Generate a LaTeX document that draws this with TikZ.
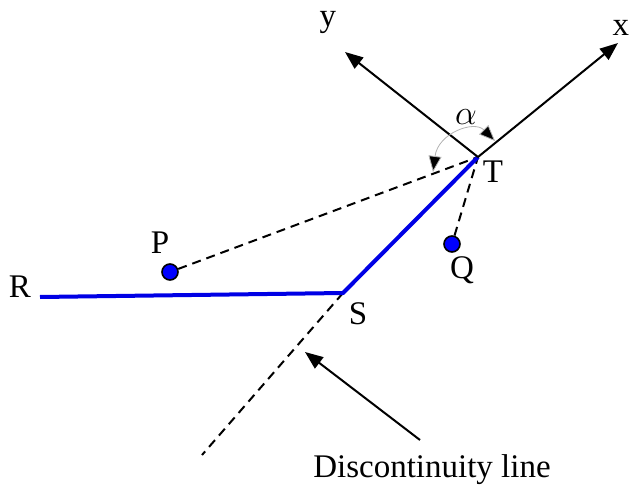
\documentclass[tikz,border=0pt]{standalone}
\usepackage{fontspec}
\setmainfont{Liberation Serif}
\usepackage{tikz}
\usetikzlibrary{arrows.meta}

\begin{document}
\begin{tikzpicture}[
  x=0.5pt, y=-0.5pt,
  every node/.style={font=\fontsize{16.5}{20}\selectfont,inner sep=0pt},
  axis/.style={line width=1pt,-{Triangle[length=9pt,width=7pt]}},
  crack/.style={line width=2pt,blue!90!black},
  ray/.style={line width=1pt,dash pattern=on 4.5pt off 3pt},
  spot/.style={circle,draw=black,fill=blue,line width=0.8pt,minimum size=8pt}
]
\useasboundingbox (0,0) rectangle (629,493);
\coordinate (T) at (478,157);
\coordinate (S) at (343,293);
\coordinate (R) at (40,297);
\coordinate (xend) at (618,43);
\coordinate (yend) at (345,52);
\coordinate (dend) at (202,455);
\coordinate (tail) at (420,440);
\coordinate (head) at (305,352);
\node[spot] (P) at (170,272) {};
\node[spot] (Q) at (452,244) {};

\draw[ray] (P) -- (T);
\draw[ray] (Q) -- (T);
\draw[ray] (S) -- (dend);
\draw[crack] (R) -- (S) -- (T);
\draw[axis] (T) -- (xend);
\draw[axis] (T) -- (yend);
\draw[gray!60,line width=0.4pt,{Triangle[length=8pt,width=6.5pt,fill=black]}-{Triangle[length=8pt,width=6.5pt,fill=black]}]
  (433,172) .. controls (438,133) and (474,120) .. (495,141);
\draw[axis] (tail) -- (head);

\node (xlab) at (621,28) {x};
\node (ylab) at (328,22) {y};
\node (Tlab) at (493,172) {T};
\node (Slab) at (358,314) {S};
\node (Rlab) at (20,287) {R};
\node (Plab) at (160,243) {P};
\node (Qlab) at (462,270) {Q};
\node (alab) at (466,117) {$\alpha$};
\node (dlab) at (432,470) {Discontinuity line};
\end{tikzpicture}
\end{document}
